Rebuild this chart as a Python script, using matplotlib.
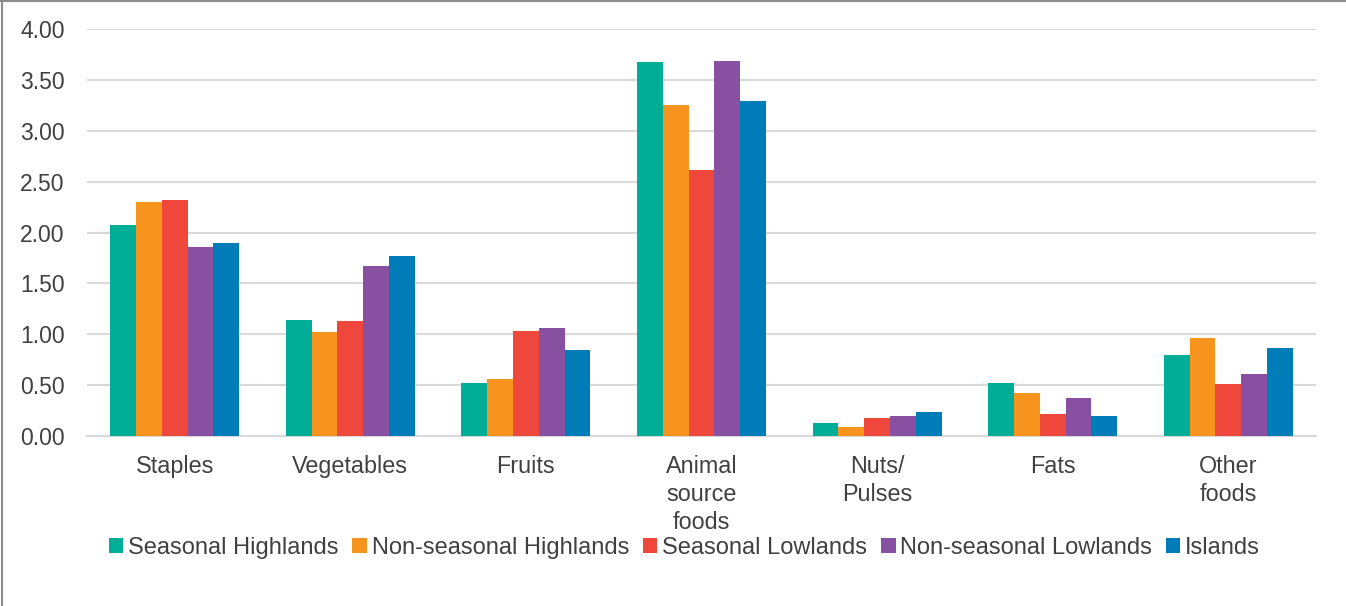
import matplotlib
matplotlib.use("Agg")
import matplotlib.pyplot as plt
import numpy as np

categories = ["Staples", "Vegetables", "Fruits", "Animal\nsource\nfoods", "Nuts/\nPulses", "Fats", "Other\nfoods"]
series_names = ["Seasonal Highlands", "Non-seasonal Highlands", "Seasonal Lowlands", "Non-seasonal Lowlands", "Islands"]
seasonal_highlands = [2.07, 1.14, 0.52, 3.68, 0.13, 0.52, 0.80]
nonseasonal_highlands = [2.30, 1.02, 0.56, 3.25, 0.09, 0.42, 0.96]
seasonal_lowlands = [2.32, 1.13, 1.03, 2.61, 0.18, 0.22, 0.51]
nonseasonal_lowlands = [1.86, 1.67, 1.06, 3.69, 0.20, 0.37, 0.61]
islands = [1.90, 1.77, 0.85, 3.29, 0.24, 0.20, 0.86]
yticks = [0.0, 0.5, 1.0, 1.5, 2.0, 2.5, 3.0, 3.5, 4.0]

colors = ["#00AE97", "#F7941D", "#EF473C", "#8750A1", "#007DB8"]
data = [seasonal_highlands, nonseasonal_highlands, seasonal_lowlands, nonseasonal_lowlands, islands]

plt.rcParams['font.family'] = ['Liberation Sans', 'DejaVu Sans']
fig = plt.figure(figsize=(13.46, 6.06), dpi=100)
ax = fig.add_axes([87/1346, 1-436/606, (1316-87)/1346, (436-29)/606])

x = np.arange(len(categories))
group = 0.735
w = group / len(data)
for i, (vals, name, c) in enumerate(zip(data, series_names, colors)):
    ax.bar(x - group/2 + w*(i+0.5), vals, width=w, color=c, label=name, zorder=3, linewidth=0)

ax.set_xlim(-0.5, len(categories)-0.5)
ax.set_ylim(0, 4.0)
ax.set_yticks(yticks)
ax.set_yticklabels([f"{v:.2f}" for v in yticks])
ax.set_xticks(x)
ax.set_xticklabels(categories, linespacing=1.27, va='top')
ax.yaxis.grid(True, color="#D9D9D9", linewidth=1.5, zorder=0)
ax.set_axisbelow(True)
for s in ["top", "right", "left"]:
    ax.spines[s].set_visible(False)
ax.spines["bottom"].set_color("#D9D9D9")
ax.spines["bottom"].set_linewidth(1.5)
ax.tick_params(axis='y', length=0, pad=16, labelsize=16.5, labelcolor="#404040")
ax.tick_params(axis='x', length=0, pad=14, labelsize=16.8, labelcolor="#404040")

fig.legend(loc='center', bbox_to_anchor=(0.5085, 1-548/606), ncol=5, frameon=False,
           fontsize=17, handlelength=0.62, handleheight=0.62, handletextpad=0.2,
           columnspacing=0.58, labelcolor="#404040")

# outer chart frame (left and top visible)
fig.add_artist(plt.Line2D([2/1346, 2/1346], [0, 1], transform=fig.transFigure, color="#8C8C8C", linewidth=1.5))
fig.add_artist(plt.Line2D([0, 1], [1-1/606, 1-1/606], transform=fig.transFigure, color="#8C8C8C", linewidth=1.5))

fig.savefig("out.png", dpi=100)
